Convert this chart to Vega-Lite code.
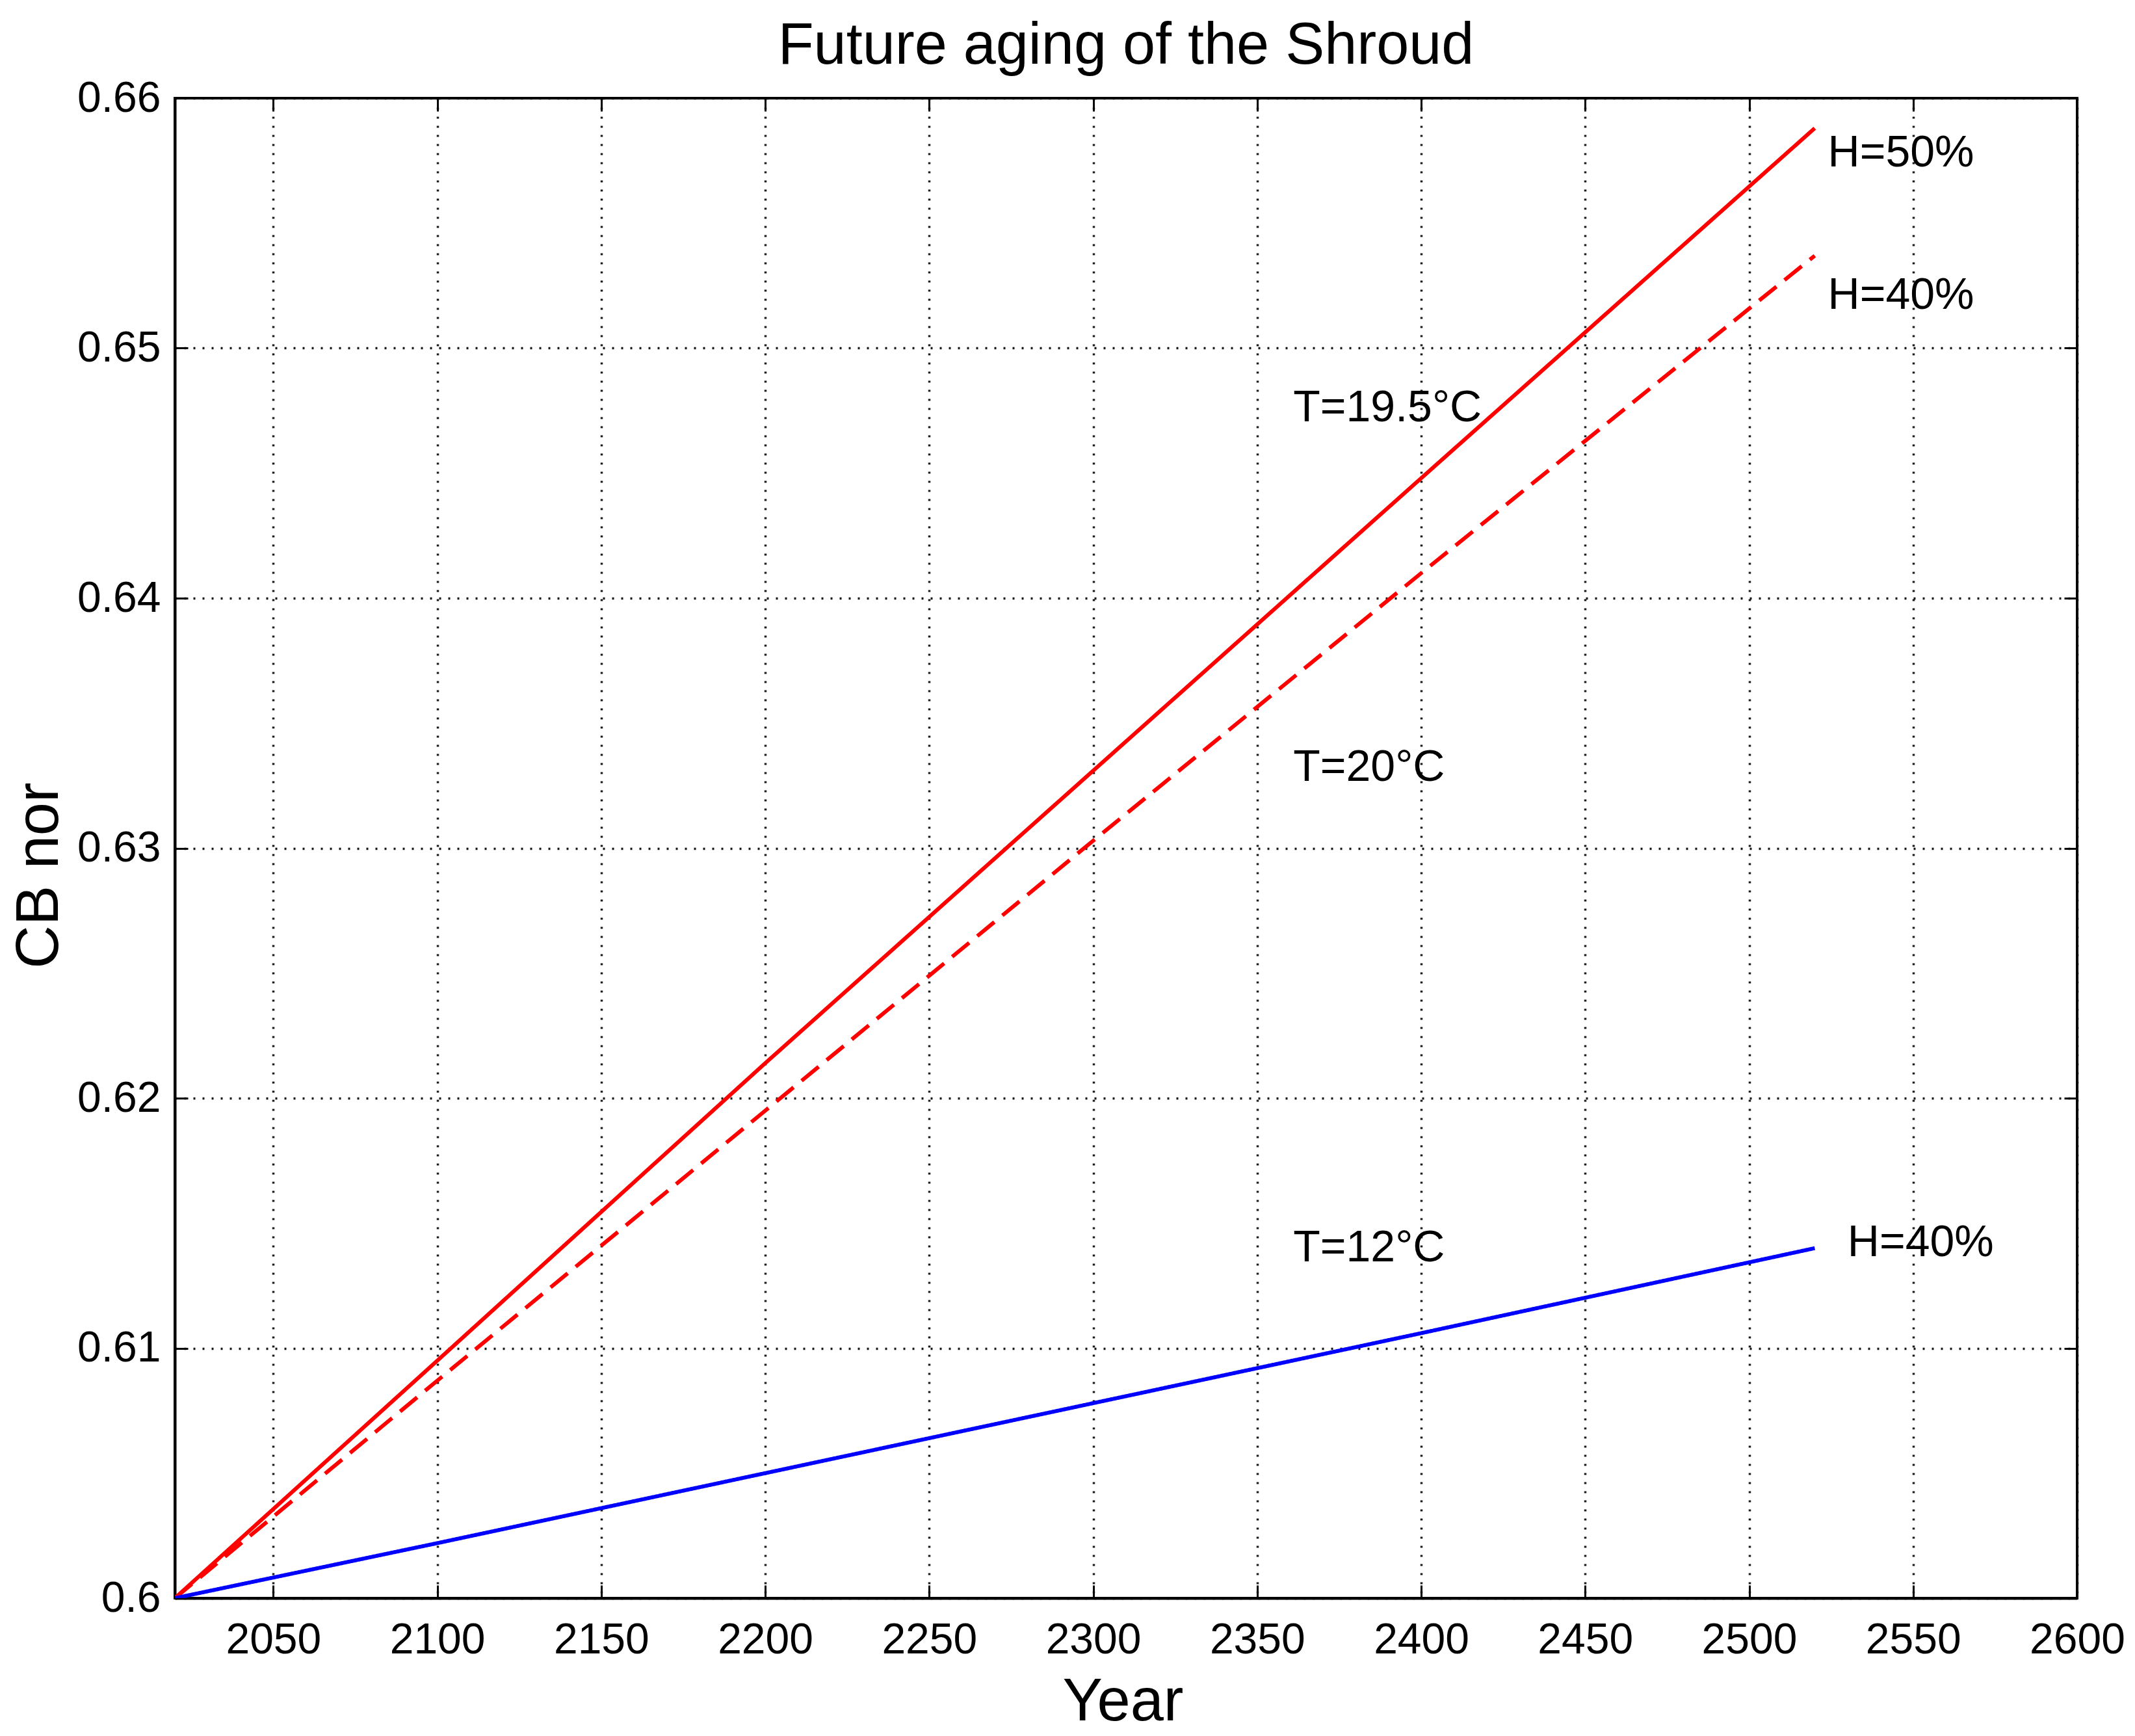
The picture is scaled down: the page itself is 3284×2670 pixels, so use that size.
{
  "$schema": "https://vega.github.io/schema/vega-lite/v6.json",
  "width": 2926,
  "height": 2307,
  "autosize": {"type": "none"},
  "padding": {"left": 269, "top": 151, "right": 89, "bottom": 212},
  "background": "white",
  "title": {
    "text": "Future aging of the Shroud",
    "fontSize": 90,
    "font": "Liberation Sans",
    "fontWeight": "normal",
    "color": "black",
    "anchor": "middle",
    "baseline": "alphabetic",
    "offset": -70
  },
  "config": {
    "view": {"stroke": "black", "strokeWidth": 4},
    "font": "Liberation Sans"
  },
  "datasets": {
    "curves": [
      {"year": 2020, "value": 0.6, "series": "T=19.5°C, H=50%"},
      {"year": 2100, "value": 0.6095, "series": "T=19.5°C, H=50%"},
      {"year": 2200, "value": 0.6214, "series": "T=19.5°C, H=50%"},
      {"year": 2300, "value": 0.6331, "series": "T=19.5°C, H=50%"},
      {"year": 2400, "value": 0.6448, "series": "T=19.5°C, H=50%"},
      {"year": 2520, "value": 0.6588, "series": "T=19.5°C, H=50%"},
      {"year": 2020, "value": 0.6, "series": "T=20°C, H=40%"},
      {"year": 2100, "value": 0.6087, "series": "T=20°C, H=40%"},
      {"year": 2200, "value": 0.6195, "series": "T=20°C, H=40%"},
      {"year": 2300, "value": 0.6303, "series": "T=20°C, H=40%"},
      {"year": 2400, "value": 0.641, "series": "T=20°C, H=40%"},
      {"year": 2520, "value": 0.6537, "series": "T=20°C, H=40%"},
      {"year": 2020, "value": 0.6, "series": "T=12°C, H=40%"},
      {"year": 2100, "value": 0.6022, "series": "T=12°C, H=40%"},
      {"year": 2200, "value": 0.605, "series": "T=12°C, H=40%"},
      {"year": 2300, "value": 0.6078, "series": "T=12°C, H=40%"},
      {"year": 2400, "value": 0.6106, "series": "T=12°C, H=40%"},
      {"year": 2520, "value": 0.614, "series": "T=12°C, H=40%"}
    ],
    "labels": [
      {"year": 2524, "value": 0.6578, "label": "H=50%"},
      {"year": 2524, "value": 0.6521, "label": "H=40%"},
      {"year": 2361, "value": 0.6476, "label": "T=19.5°C"},
      {"year": 2361, "value": 0.6332, "label": "T=20°C"},
      {"year": 2361, "value": 0.614, "label": "T=12°C"},
      {"year": 2530, "value": 0.6142, "label": "H=40%"}
    ]
  },
  "layer": [
    {
      "data": {"name": "curves"},
      "mark": {"type": "line", "clip": true},
      "encoding": {
        "x": {
          "field": "year", "type": "quantitative",
          "scale": {"domain": [2020, 2600], "nice": false, "zero": false},
          "axis": {
            "orient": "bottom",
            "title": "Year",
            "titleFontSize": 92, "titleFont": "Liberation Sans", "titleFontWeight": "normal", "titleColor": "black",
            "titleBaseline": "alphabetic", "titleY": 187, "titleX": 1458,
            "values": [2050, 2100, 2150, 2200, 2250, 2300, 2350, 2400, 2450, 2500, 2550, 2600],
            "format": "d",
            "labelFontSize": 66, "labelColor": "black", "labelFont": "Liberation Sans",
            "labelPadding": 52, "labelBaseline": "top", "labelFlush": false, "labelOverlap": false,
            "tickSize": -20, "tickWidth": 3, "tickColor": "black",
            "domain": true, "domainColor": "black", "domainWidth": 4,
            "grid": true, "gridColor": "black", "gridDash": [3, 11], "gridWidth": 3.5, "gridOpacity": 0.9
          }
        },
        "y": {
          "field": "value", "type": "quantitative",
          "scale": {"domain": [0.6, 0.66], "nice": false, "zero": false},
          "axis": {
            "orient": "left",
            "title": "CB nor",
            "titleFontSize": 92, "titleFont": "Liberation Sans", "titleFontWeight": "normal", "titleColor": "black",
            "titleAngle": -90, "titleBaseline": "alphabetic", "titleAlign": "center", "titleX": -181, "titleY": 1195,
            "values": [0.6, 0.61, 0.62, 0.63, 0.64, 0.65, 0.66],
            "format": ".2~f",
            "labelFontSize": 66, "labelColor": "black", "labelFont": "Liberation Sans",
            "labelPadding": 42, "labelFlush": false, "labelOverlap": false,
            "tickSize": -20, "tickWidth": 3, "tickColor": "black",
            "domain": true, "domainColor": "black", "domainWidth": 4,
            "grid": true, "gridColor": "black", "gridDash": [3, 11], "gridWidth": 3.5, "gridOpacity": 0.9
          }
        },
        "color": {
          "field": "series", "type": "nominal",
          "scale": {"domain": ["T=19.5°C, H=50%", "T=20°C, H=40%", "T=12°C, H=40%"], "range": ["#ff0000", "#ff0000", "#0000ff"]},
          "legend": null
        },
        "strokeDash": {
          "field": "series", "type": "nominal",
          "scale": {"domain": ["T=19.5°C, H=50%", "T=20°C, H=40%", "T=12°C, H=40%"], "range": [[1, 0], [34, 16], [1, 0]]},
          "legend": null
        },
        "strokeWidth": {
          "field": "series", "type": "nominal",
          "scale": {"domain": ["T=19.5°C, H=50%", "T=20°C, H=40%", "T=12°C, H=40%"], "range": [6, 6, 9]},
          "legend": null
        }
      }
    },
    {
      "data": {"name": "labels"},
      "mark": {"type": "text", "align": "left", "baseline": "middle", "fontSize": 68, "font": "Liberation Sans", "color": "black"},
      "encoding": {
        "x": {"field": "year", "type": "quantitative",
          "axis": {"orient": "top", "title": null, "labels": false, "grid": false, "domain": false,
            "values": [2050, 2100, 2150, 2200, 2250, 2300, 2350, 2400, 2450, 2500, 2550, 2600],
            "tickSize": -20, "tickWidth": 3, "tickColor": "black"}},
        "y": {"field": "value", "type": "quantitative",
          "axis": {"orient": "right", "title": null, "labels": false, "grid": false, "domain": false,
            "values": [0.6, 0.61, 0.62, 0.63, 0.64, 0.65, 0.66],
            "tickSize": -20, "tickWidth": 3, "tickColor": "black"}},
        "text": {"field": "label", "type": "nominal"}
      }
    }
  ],
  "resolve": {"axis": {"x": "independent", "y": "independent"}}
}
